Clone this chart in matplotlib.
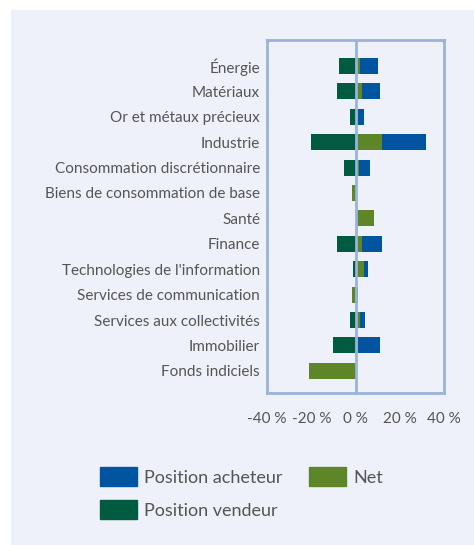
import matplotlib.pyplot as plt
from matplotlib.patches import Patch, Rectangle

categories = ["Énergie", "Matériaux", "Or et métaux précieux", "Industrie",
              "Consommation discrétionnaire", "Biens de consommation de base",
              "Santé", "Finance", "Technologies de l'information",
              "Services de communication", "Services aux collectivités",
              "Immobilier", "Fonds indiciels"]
long_pos = [10, 11, 4, 32, 6.5, 0, 8.5, 12, 5.5, 1, 4.5, 11, 0]
short_pos = [-7.5, -8.5, -2.5, -20, -5, -1.5, 0, -8.5, -1, -1.5, -2.5, -10, -21]
net_pos = [2, 3, 1, 12, 1.5, -1.5, 8.5, 3, 4, -1.5, 2, 1, -21]
xticks = [-40, -20, 0, 20, 40]

blue = '#0054A0'
dkgreen = '#005B41'
ltgreen = '#5E8628'
panel = '#EEF1F9'
frame = '#98B4DA'
txt = '#555555'

plt.rcParams['font.family'] = ['Lato', 'DejaVu Sans']

fig = plt.figure(figsize=(4.74, 5.45), dpi=100)
fig.patch.set_facecolor('white')
# light panel behind everything
fig.add_artist(Rectangle((11/474, 0), 1, 1 - 10/545, transform=fig.transFigure,
                         facecolor=panel, edgecolor='none', zorder=-5))

ax = fig.add_axes((267/474, 1 - 393/545, 177/474, 353/545))
ax.set_facecolor(panel)

y = list(range(len(categories)))
h = 0.63
ax.barh(y, long_pos, height=h, color=blue, zorder=2)
ax.barh(y, short_pos, height=h, color=dkgreen, zorder=2)
ax.barh(y, net_pos, height=h, color=ltgreen, zorder=3)
ax.axvline(0, color=frame, lw=2, zorder=4)

ax.set_xlim(-40, 40)
ax.set_ylim(12.87, -1.02)
ax.set_yticks(y)
ax.set_yticklabels(categories)
ax.set_xticks(xticks)
ax.set_xticklabels([f'{v} %' for v in xticks])
ax.tick_params(length=0, labelcolor=txt, labelsize=11)
ax.tick_params(axis='y', pad=5)
ax.tick_params(axis='x', pad=14)
for s in ax.spines.values():
    s.set_color(frame)
    s.set_linewidth(2)

handles = [Patch(color=blue, label='Position acheteur'),
           Patch(color=dkgreen, label='Position vendeur'),
           Patch(color=ltgreen, label='Net')]
fig.legend(handles=handles, ncol=2, loc='upper left',
           bbox_to_anchor=(100/474, 1 - 467/545), frameon=False,
           borderpad=0, borderaxespad=0,
           fontsize=13, labelcolor=txt, handlelength=2.05, handleheight=1.27,
           handletextpad=0.4, columnspacing=1.45, labelspacing=0.75)

fig.savefig('out.png', dpi=100, facecolor='white')
